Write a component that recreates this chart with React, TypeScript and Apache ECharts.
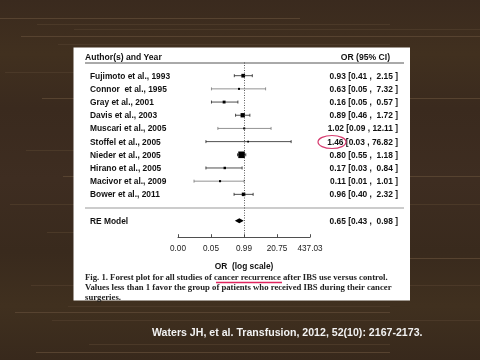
import React, { useEffect, useRef } from "react";
import * as echarts from "echarts";

const studies = [
  "Fujimoto et al., 1993",
  "Connor  et al., 1995",
  "Gray et al., 2001",
  "Davis et al., 2003",
  "Muscari et al., 2005",
  "Stoffel et al., 2005",
  "Nieder et al., 2005",
  "Hirano et al., 2005",
  "Macivor et al., 2009",
  "Bower et al., 2011",
];
const oddsRatios = [0.93, 0.63, 0.16, 0.89, 1.02, 1.46, 0.8, 0.17, 0.11, 0.96];
const ciLower = [0.41, 0.05, 0.05, 0.46, 0.09, 0.03, 0.55, 0.03, 0.01, 0.4];
const ciUpper = [2.15, 7.32, 0.57, 1.72, 12.11, 76.82, 1.18, 0.84, 1.01, 2.32];
const summaryLabel = "RE Model";
const summaryOR = 0.65;
const summaryLower = 0.43;
const summaryUpper = 0.98;
const tickLabels = ["0.00", "0.05", "0.99", "20.75", "437.03"];

const LOG_STEP = 3.04;

const fmt = (v: number) => v.toFixed(2);
const ciText = (o: number, l: number, h: number) =>
  `${fmt(o)} [${fmt(l)} , ${fmt(h).padStart(5, " ")} ]`;

// decorative wood-grain streaks (background only)
const grainRows = [18, 24, 29, 36, 44, 72, 98, 121, 150, 176, 204, 232, 258, 285, 306, 312, 320, 344, 352];

export default function App() {
  const ref = useRef<HTMLDivElement>(null);
  useEffect(() => {
    if (!ref.current) return;
    const chart = echarts.init(ref.current, undefined, { renderer: "svg" });

    const studyData = studies.map((_, i) => {
      const lo = Math.log(ciLower[i]);
      const hi = Math.log(ciUpper[i]);
      const se = (hi - lo) / 3.92;
      const w = 1 / (se * se);
      const size = 1.2 + 1.05 * Math.sqrt(w);
      return [Math.log(oddsRatios[i]), lo, hi, i + 1, size, i];
    });

    const sans = '"Liberation Sans", Arial, sans-serif';
    const serif = '"Liberation Serif", "Times New Roman", serif';
    const FS = 8.4;

    const grain = grainRows.map((gy, k) => ({
      type: "rect",
      shape: { x: (k * 37) % 90, y: gy, width: 300 + ((k * 53) % 180), height: 1 },
      style: { fill: k % 3 === 0 ? "#574330" : "#4b3928" },
      z: -9,
    }));

    const option: any = {
      animation: false,
      backgroundColor: "transparent",
      grid: { left: 178, right: 170, top: 62.5, bottom: 122.8 },
      xAxis: {
        type: "value",
        min: -2 * LOG_STEP,
        max: 2 * LOG_STEP,
        interval: LOG_STEP,
        position: "bottom",
        splitLine: { show: false },
        axisLine: { show: true, onZero: false, lineStyle: { color: "#222", width: 0.8 } },
        axisTick: { show: true, inside: true, length: 3, lineStyle: { color: "#222", width: 0.8 } },
        axisLabel: {
          margin: 7,
          fontSize: 8.2,
          color: "#222",
          fontFamily: sans,
          formatter: (v: number) => {
            const k = Math.round(v / LOG_STEP) + 2;
            return tickLabels[k] ?? "";
          },
        },
        name: "OR  (log scale)",
        nameLocation: "middle",
        nameGap: 25,
        nameTextStyle: { fontSize: FS, fontWeight: "bold", color: "#111", fontFamily: sans },
      },
      yAxis: { type: "value", inverse: true, min: 0, max: 13.25, show: false },
      graphic: [
        {
          type: "rect",
          shape: { x: 0, y: 0, width: 480, height: 360 },
          style: {
            fill: {
              type: "linear",
              x: 0, y: 0, x2: 0, y2: 1,
              colorStops: [
                { offset: 0, color: "#3a2a1e" },
                { offset: 0.15, color: "#41301f" },
                { offset: 0.3, color: "#3a2a1e" },
                { offset: 0.5, color: "#3e2d21" },
                { offset: 0.7, color: "#392a1d" },
                { offset: 0.85, color: "#40301f" },
                { offset: 1, color: "#38291c" },
              ],
            },
          },
          z: -10,
        },
        ...grain,
        {
          type: "rect",
          shape: { x: 73.5, y: 47.5, width: 336.5, height: 253 },
          style: { fill: "#ffffff" },
          z: -5,
        },
        {
          type: "text",
          x: 85, y: 57,
          style: { text: "Author(s) and Year", fontSize: 8.6, fontWeight: "bold", fontFamily: sans, fill: "#111", verticalAlign: "middle" },
        },
        {
          type: "text",
          x: 390, y: 57,
          style: { text: "OR (95% CI)", fontSize: 8.6, fontWeight: "bold", fontFamily: sans, fill: "#111", align: "right", verticalAlign: "middle" },
        },
        { type: "line", shape: { x1: 85, y1: 63, x2: 404, y2: 63 }, style: { stroke: "#555", lineWidth: 1 } },
        { type: "line", shape: { x1: 85, y1: 208, x2: 404, y2: 208 }, style: { stroke: "#999", lineWidth: 1 } },
        {
          type: "text",
          x: 85, y: 277,
          style: { text: "Fig. 1. Forest plot for all studies of cancer recurrence after IBS use versus control.", fontSize: 8.7, fontWeight: "bold", fontFamily: serif, fill: "#222", verticalAlign: "middle" },
        },
        {
          type: "text",
          x: 85, y: 287,
          style: { text: "Values less than 1 favor the group of patients who received IBS during their cancer", fontSize: 8.7, fontWeight: "bold", fontFamily: serif, fill: "#222", verticalAlign: "middle" },
        },
        {
          type: "text",
          x: 85, y: 296.5,
          style: { text: "surgeries.", fontSize: 8.7, fontWeight: "bold", fontFamily: serif, fill: "#222", verticalAlign: "middle" },
        },
        { type: "line", shape: { x1: 216, y1: 282.5, x2: 282, y2: 282.5 }, style: { stroke: "#e0245e", lineWidth: 1.3 }, z: 10 },
        {
          type: "ellipse",
          shape: { cx: 332, cy: 142, rx: 14, ry: 6.5 },
          style: { fill: null, stroke: "#d63a6e", lineWidth: 1.2 },
          z: 10,
        },
        {
          type: "text",
          x: 152, y: 332,
          style: { text: "Waters JH, et al. Transfusion, 2012, 52(10): 2167-2173.", fontSize: 10.6, fontWeight: "bold", fontFamily: sans, fill: "#f2f2f2", verticalAlign: "middle" },
        },
      ],
      series: [
        {
          type: "custom",
          clip: false,
          data: studyData,
          renderItem: (params: any, api: any) => {
            const row = api.value(3);
            const idx = api.value(5);
            const [xm, y] = api.coord([api.value(0), row]);
            const [xl] = api.coord([api.value(1), row]);
            const [xh] = api.coord([api.value(2), row]);
            const s = api.value(4);
            const ratio = ciUpper[idx] / ciLower[idx];
            const col = ratio > 50 && ratio < 200 ? "#777" : "#222";
            return {
              type: "group",
              children: [
                { type: "line", shape: { x1: xl, y1: y, x2: xh, y2: y }, style: { stroke: col, lineWidth: 0.8 } },
                { type: "line", shape: { x1: xl, y1: y - 1.5, x2: xl, y2: y + 1.5 }, style: { stroke: col, lineWidth: 0.8 } },
                { type: "line", shape: { x1: xh, y1: y - 1.5, x2: xh, y2: y + 1.5 }, style: { stroke: col, lineWidth: 0.8 } },
                { type: "rect", shape: { x: xm - s / 2, y: y - s / 2, width: s, height: s }, style: { fill: "#000" } },
                {
                  type: "text",
                  x: 90, y,
                  style: { text: studies[idx], fontSize: FS, fontWeight: "bold", fontFamily: sans, fill: "#111", verticalAlign: "middle" },
                },
                {
                  type: "text",
                  x: 398, y,
                  style: { text: ciText(oddsRatios[idx], ciLower[idx], ciUpper[idx]), fontSize: FS, fontWeight: "bold", fontFamily: sans, fill: "#111", align: "right", verticalAlign: "middle" },
                },
              ],
            };
          },
          markLine: {
            silent: true,
            symbol: "none",
            label: { show: false },
            lineStyle: { color: "#333", type: [1, 1.5], width: 0.8 },
            data: [{ xAxis: 0 }],
          },
        },
        {
          type: "custom",
          clip: false,
          data: [[Math.log(summaryOR), Math.log(summaryLower), Math.log(summaryUpper), 12]],
          renderItem: (params: any, api: any) => {
            const row = api.value(3);
            const [xm, y] = api.coord([api.value(0), row]);
            const [xl] = api.coord([api.value(1), row]);
            const [xh] = api.coord([api.value(2), row]);
            return {
              type: "group",
              children: [
                {
                  type: "polygon",
                  shape: { points: [[xl, y], [xm, y - 2.5], [xh, y], [xm, y + 2.5]] },
                  style: { fill: "#000" },
                },
                {
                  type: "text",
                  x: 90, y,
                  style: { text: summaryLabel, fontSize: FS, fontWeight: "bold", fontFamily: sans, fill: "#111", verticalAlign: "middle" },
                },
                {
                  type: "text",
                  x: 398, y,
                  style: { text: ciText(summaryOR, summaryLower, summaryUpper), fontSize: FS, fontWeight: "bold", fontFamily: sans, fill: "#111", align: "right", verticalAlign: "middle" },
                },
              ],
            };
          },
        },
      ],
    };
    chart.setOption(option);
    return () => chart.dispose();
  }, []);
  return (
    <div
      ref={ref}
      style={{ position: "fixed", left: 0, top: 0, width: 480, height: 360 }}
    />
  );
}
